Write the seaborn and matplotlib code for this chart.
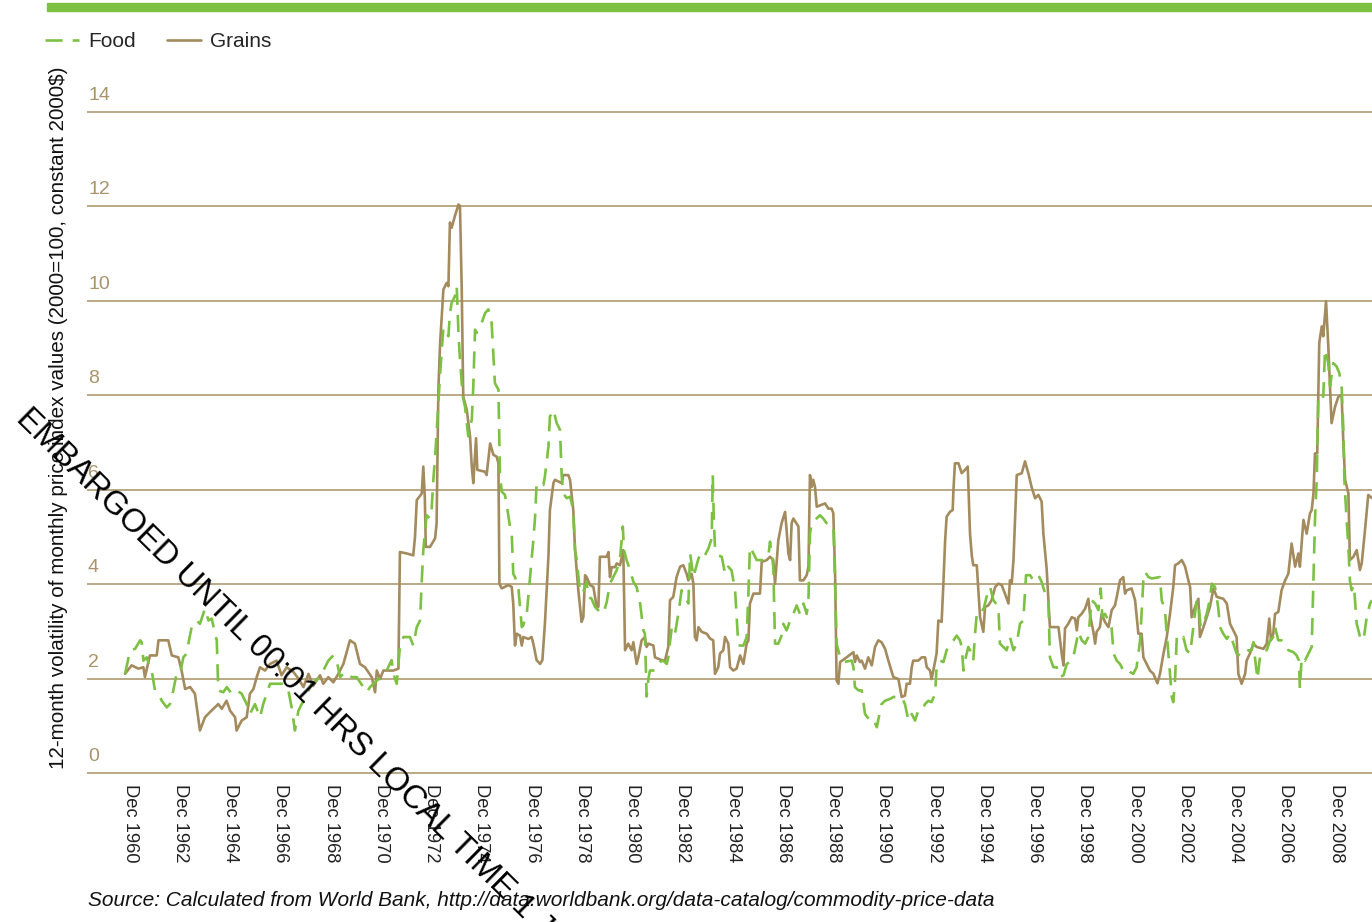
import matplotlib
matplotlib.use("Agg")
import matplotlib.pyplot as plt
import seaborn as sns
import pandas as pd
from matplotlib.patches import Rectangle

# ---------------- data ----------------
grains_year = [
    1960.72, 1960.98, 1961.25, 1961.45, 1961.51, 1961.71, 1961.98, 1962.05, 1962.44, 1962.58,
    1962.84, 1962.97, 1963.11, 1963.31, 1963.50, 1963.70, 1963.90, 1964.10, 1964.43, 1964.57,
    1964.76, 1964.90, 1965.10, 1965.16, 1965.36, 1965.56, 1965.69, 1965.83, 1965.96, 1966.09,
    1966.29, 1966.49, 1966.75, 1966.95, 1967.15, 1967.42, 1967.62, 1967.82, 1968.02, 1968.21,
    1968.48, 1968.61, 1968.81, 1969.01, 1969.21, 1969.41, 1969.67, 1969.87, 1970.07, 1970.27,
    1970.54, 1970.67, 1970.74, 1970.87, 1971.00, 1971.40, 1971.60, 1971.66, 1971.93, 1972.19,
    1972.26, 1972.33, 1972.53, 1972.59, 1972.65, 1972.69, 1972.86, 1973.06, 1973.12, 1973.19,
    1973.26, 1973.39, 1973.52, 1973.59, 1973.65, 1973.72, 1973.85, 1973.99, 1974.05, 1974.12,
    1974.18, 1974.32, 1974.45, 1974.52, 1974.58, 1974.69, 1974.74, 1975.05, 1975.11, 1975.25,
    1975.38, 1975.51, 1975.58, 1975.62, 1975.71, 1975.98, 1976.11, 1976.17, 1976.24, 1976.31,
    1976.44, 1976.51, 1976.57, 1976.77, 1976.90, 1976.97, 1977.10, 1977.24, 1977.33, 1977.43,
    1977.57, 1977.63, 1977.77, 1977.83, 1978.10, 1978.16, 1978.36, 1978.43, 1978.56, 1978.63,
    1978.76, 1978.89, 1978.96, 1979.03, 1979.09, 1979.23, 1979.36, 1979.49, 1979.56, 1979.62,
    1979.89, 1979.96, 1980.02, 1980.09, 1980.22, 1980.29, 1980.42, 1980.55, 1980.62, 1980.75,
    1980.88, 1980.95, 1981.08, 1981.15, 1981.28, 1981.41, 1981.48, 1981.55, 1981.75, 1981.81,
    1982.08, 1982.21, 1982.34, 1982.41, 1982.54, 1982.67, 1982.81, 1982.94, 1983.07, 1983.14,
    1983.27, 1983.34, 1983.40, 1983.47, 1983.54, 1983.67, 1983.87, 1984.00, 1984.13, 1984.20,
    1984.33, 1984.40, 1984.53, 1984.60, 1984.73, 1984.80, 1984.93, 1985.06, 1985.20, 1985.33,
    1985.46, 1985.53, 1985.59, 1985.73, 1985.99, 1986.06, 1986.26, 1986.39, 1986.52, 1986.59,
    1986.72, 1986.85, 1986.99, 1987.05, 1987.12, 1987.19, 1987.25, 1987.32, 1987.52, 1987.58,
    1987.72, 1987.85, 1987.92, 1987.98, 1988.05, 1988.11, 1988.18, 1988.25, 1988.58, 1988.71,
    1988.84, 1988.91, 1988.98, 1989.04, 1989.11, 1989.18, 1989.44, 1989.71, 1989.77, 1989.84,
    1989.97, 1990.04, 1990.17, 1990.30, 1990.44, 1990.57, 1990.70, 1990.83, 1990.97, 1991.10,
    1991.30, 1991.50, 1991.63, 1991.76, 1991.83, 1991.96, 1992.03, 1992.09, 1992.29, 1992.43,
    1992.56, 1992.63, 1992.76, 1992.82, 1992.89, 1993.02, 1993.09, 1993.22, 1993.29, 1993.36,
    1993.42, 1993.55, 1993.66, 1993.69, 1993.75, 1993.89, 1994.02, 1994.15, 1994.26, 1994.35,
    1994.42, 1994.48, 1994.62, 1994.75, 1994.88, 1994.95, 1995.08, 1995.21, 1995.35, 1995.48,
    1995.61, 1995.74, 1995.88, 1995.94, 1996.01, 1996.08, 1996.21, 1996.41, 1996.54, 1996.67,
    1996.80, 1996.94, 1997.07, 1997.20, 1997.27, 1997.40, 1997.53, 1997.87, 1998.00, 1998.07,
    1998.13, 1998.26, 1998.40, 1998.53, 1998.60, 1998.66, 1998.79, 1998.93, 1999.06, 1999.13,
    1999.26, 1999.33, 1999.39, 1999.52, 1999.59, 1999.72, 1999.86, 1999.99, 2000.12, 2000.19,
    2000.32, 2000.45, 2000.52, 2000.59, 2000.78, 2000.92, 2001.05, 2001.18, 2001.25, 2001.38,
    2001.51, 2001.65, 2001.81, 2001.91, 2002.05, 2002.18, 2002.31, 2002.44, 2002.51, 2002.64,
    2002.78, 2002.91, 2003.04, 2003.11, 2003.17, 2003.31, 2003.44, 2003.50, 2003.64, 2003.77,
    2003.90, 2004.04, 2004.17, 2004.43, 2004.57, 2004.70, 2004.83, 2004.96, 2005.03, 2005.16,
    2005.30, 2005.36, 2005.49, 2005.63, 2005.76, 2006.03, 2006.16, 2006.26, 2006.33, 2006.42,
    2006.49, 2006.62, 2006.75, 2006.89, 2007.02, 2007.15, 2007.29, 2007.42, 2007.48, 2007.62,
    2007.75, 2007.88, 2007.95, 2008.02, 2008.08, 2008.17, 2008.25, 2008.35, 2008.41, 2008.52,
    2008.61, 2008.68, 2008.74, 2008.88, 2009.01, 2009.14, 2009.21, 2009.28, 2009.41, 2009.47,
    2009.61, 2009.74, 2009.87, 2009.94, 2010.07, 2010.20, 2010.35,
]
grains_vol = [
    2.10, 2.28, 2.21, 2.24, 2.03, 2.49, 2.49, 2.81, 2.81, 2.49,
    2.45, 2.17, 1.78, 1.82, 1.68, 0.90, 1.18, 1.29, 1.46, 1.36,
    1.53, 1.32, 1.18, 0.90, 1.11, 1.18, 1.68, 1.78, 2.03, 2.24,
    2.17, 2.31, 2.38, 2.07, 2.24, 2.14, 2.00, 1.82, 2.10, 1.85,
    2.07, 1.89, 2.03, 1.92, 2.10, 2.31, 2.81, 2.74, 2.31, 2.24,
    2.03, 1.71, 2.17, 1.99, 2.17, 2.17, 2.21, 4.68, 4.65, 4.61,
    5.00, 5.78, 5.92, 6.49, 5.85, 4.79, 4.79, 4.97, 5.29, 8.12,
    9.11, 10.24, 10.38, 10.31, 11.66, 11.55, 11.80, 12.04, 12.01, 10.24,
    7.98, 7.69, 7.13, 6.49, 6.14, 7.09, 6.42, 6.38, 6.31, 6.98,
    6.74, 6.70, 6.56, 4.01, 3.91, 3.98, 3.94, 3.59, 2.70, 2.95,
    2.91, 2.70, 2.88, 2.84, 2.88, 2.74, 2.39, 2.31, 2.39, 3.16,
    4.58, 5.57, 6.14, 6.21, 6.14, 6.31, 6.31, 6.21, 5.57, 4.72,
    3.87, 3.20, 3.30, 4.19, 4.15, 3.98, 3.94, 3.52, 3.52, 4.58,
    4.58, 4.68, 4.15, 4.36, 4.36, 4.44, 4.40, 4.72, 2.60, 2.74,
    2.60, 2.77, 2.31, 2.45, 2.81, 2.88, 2.67, 2.74, 2.70, 2.45,
    2.39, 2.38, 2.67, 3.66, 3.73, 4.15, 4.37, 4.40, 4.22, 4.08,
    4.22, 4.01, 2.88, 2.81, 3.09, 2.99, 2.95, 2.85, 2.81, 2.10,
    2.24, 2.53, 2.60, 2.88, 2.74, 2.24, 2.17, 2.21, 2.49, 2.31,
    2.74, 2.81, 3.59, 3.80, 3.80, 4.47, 4.51, 4.58, 4.51, 4.01,
    4.93, 5.29, 5.53, 5.14, 4.65, 4.51, 5.29, 5.39, 5.22, 4.08,
    4.08, 4.19, 4.37, 6.31, 6.06, 6.21, 6.06, 5.64, 5.71, 5.60,
    5.60, 5.50, 4.22, 1.96, 1.89, 2.35, 2.45, 2.56, 2.35, 2.49,
    2.35, 2.38, 2.21, 2.45, 2.28, 2.67, 2.81, 2.77, 2.63, 2.38,
    2.03, 1.99, 1.61, 1.64, 1.89, 1.89, 2.24, 2.38, 2.38, 2.45,
    2.45, 2.24, 2.17, 1.99, 2.17, 2.53, 3.23, 3.20, 4.01, 4.93,
    5.43, 5.53, 5.57, 5.99, 6.56, 6.56, 6.35, 6.42, 6.49, 5.07,
    4.61, 4.40, 4.40, 3.30, 2.99, 3.52, 3.55, 3.66, 3.94, 4.01,
    3.98, 3.80, 3.59, 4.08, 4.01, 4.51, 6.31, 6.35, 6.60, 6.35,
    6.06, 5.82, 5.89, 5.75, 5.07, 4.33, 3.09, 3.09, 2.53, 2.28,
    3.06, 3.16, 3.30, 3.27, 3.02, 3.30, 3.37, 3.48, 3.69, 3.34,
    2.99, 2.74, 2.99, 3.09, 3.37, 3.20, 3.09, 3.45, 3.55, 3.73,
    4.08, 4.15, 3.80, 3.87, 3.91, 3.66, 2.95, 2.95, 2.45, 2.31,
    2.17, 2.10, 1.90, 2.10, 2.53, 2.88, 3.37, 3.94, 4.40, 4.44,
    4.51, 4.37, 4.08, 3.94, 3.30, 3.52, 3.69, 2.88, 3.09, 3.30,
    3.52, 3.91, 3.73, 3.69, 3.59, 3.16, 3.02, 2.88, 2.10, 1.89,
    2.10, 2.38, 2.53, 2.74, 2.67, 2.63, 2.74, 3.27, 2.81, 2.95,
    3.37, 3.41, 3.87, 4.08, 4.22, 4.86, 4.37, 4.65, 4.37, 5.36,
    5.07, 5.50, 5.57, 5.92, 6.77, 6.77, 9.11, 9.46, 9.25, 9.99,
    9.04, 8.19, 7.41, 7.76, 7.97, 8.01, 6.98, 6.21, 5.92, 4.51,
    4.58, 4.72, 4.30, 4.44, 5.14, 5.89, 5.82,
]

food_year = [
    1960.72, 1960.92, 1961.12, 1961.32, 1961.38, 1961.45, 1961.58, 1961.71, 1961.78, 1961.91,
    1962.05, 1962.18, 1962.38, 1962.51, 1962.64, 1962.77, 1962.91, 1963.04, 1963.17, 1963.24,
    1963.37, 1963.57, 1963.70, 1963.90, 1964.04, 1964.17, 1964.30, 1964.37, 1964.43, 1964.63,
    1964.77, 1964.96, 1965.16, 1965.36, 1965.56, 1965.69, 1965.89, 1966.09, 1966.22, 1966.49,
    1967.02, 1967.22, 1967.35, 1967.48, 1967.62, 1967.75, 1967.95, 1968.15, 1968.48, 1968.61,
    1968.81, 1969.01, 1969.14, 1969.28, 1969.47, 1969.74, 1969.94, 1970.20, 1970.34, 1970.47,
    1970.74, 1970.93, 1971.13, 1971.33, 1971.40, 1971.53, 1971.66, 1971.80, 1972.06, 1972.19,
    1972.33, 1972.46, 1972.53, 1972.59, 1972.72, 1972.86, 1972.92, 1972.99, 1973.06, 1973.12,
    1973.26, 1973.39, 1973.45, 1973.59, 1973.65, 1973.72, 1973.85, 1973.92, 1973.99, 1974.05,
    1974.16, 1974.25, 1974.38, 1974.45, 1974.52, 1974.58, 1974.65, 1974.71, 1974.91, 1975.05,
    1975.18, 1975.31, 1975.44, 1975.58, 1975.64, 1975.71, 1975.84, 1975.91, 1976.04, 1976.11,
    1976.17, 1976.24, 1976.37, 1976.51, 1976.57, 1976.71, 1976.84, 1976.97, 1977.04, 1977.10,
    1977.37, 1977.43, 1977.57, 1977.63, 1977.77, 1977.90, 1978.03, 1978.10, 1978.16, 1978.30,
    1978.43, 1978.50, 1978.56, 1978.63, 1978.70, 1978.83, 1978.96, 1979.09, 1979.16, 1979.29,
    1979.42, 1979.62, 1979.76, 1979.89, 1980.02, 1980.15, 1980.29, 1980.42, 1980.53, 1980.58,
    1980.68, 1980.82, 1980.95, 1981.08, 1981.22, 1981.35, 1981.41, 1981.48, 1981.55, 1981.61,
    1981.81, 1982.01, 1982.14, 1982.28, 1982.34, 1982.48, 1982.61, 1982.74, 1982.87, 1983.01,
    1983.14, 1983.21, 1983.34, 1983.54, 1983.67, 1983.80, 1983.94, 1984.07, 1984.11, 1984.15,
    1984.20, 1984.33, 1984.47, 1984.60, 1984.73, 1984.86, 1985.00, 1985.13, 1985.33, 1985.46,
    1985.53, 1985.59, 1985.73, 1985.86, 1986.12, 1986.32, 1986.39, 1986.52, 1986.59, 1986.72,
    1986.85, 1986.92, 1987.05, 1987.19, 1987.32, 1987.45, 1987.58, 1987.72, 1987.85, 1987.92,
    1987.98, 1988.05, 1988.18, 1988.38, 1988.51, 1988.64, 1988.91, 1988.98, 1989.04, 1989.18,
    1989.31, 1989.64, 1989.71, 1989.77, 1989.91, 1990.04, 1990.17, 1990.37, 1990.50, 1990.64,
    1990.83, 1990.97, 1991.17, 1991.30, 1991.63, 1991.76, 1991.90, 1992.03, 1992.16, 1992.29,
    1992.43, 1992.56, 1992.69, 1992.82, 1992.96, 1993.02, 1993.16, 1993.29, 1993.42, 1993.55,
    1993.69, 1993.82, 1993.95, 1994.02, 1994.09, 1994.15, 1994.28, 1994.35, 1994.48, 1994.55,
    1994.62, 1994.75, 1994.88, 1995.01, 1995.15, 1995.28, 1995.48, 1995.54, 1995.81, 1995.94,
    1996.08, 1996.21, 1996.34, 1996.47, 1996.58, 1996.74, 1996.87, 1997.07, 1997.20, 1997.34,
    1997.47, 1997.53, 1997.67, 1997.80, 1997.93, 1998.07, 1998.20, 1998.33, 1998.46, 1998.60,
    1998.66, 1998.80, 1998.93, 1999.06, 1999.19, 1999.33, 1999.46, 1999.55, 1999.62, 1999.72,
    1999.86, 1999.99, 2000.06, 2000.19, 2000.32, 2000.45, 2000.59, 2000.72, 2000.85, 2000.98,
    2001.12, 2001.25, 2001.32, 2001.45, 2001.58, 2001.91, 2001.98, 2002.11, 2002.18, 2002.31,
    2002.38, 2002.44, 2002.51, 2002.58, 2002.71, 2002.84, 2002.97, 2003.11, 2003.24, 2003.37,
    2003.45, 2003.53, 2003.64, 2003.77, 2003.90, 2003.97, 2004.10, 2004.23, 2004.30, 2004.43,
    2004.57, 2004.70, 2004.83, 2004.96, 2005.10, 2005.30, 2005.43, 2005.56, 2005.63, 2005.69,
    2005.79, 2005.89, 2006.03, 2006.16, 2006.29, 2006.42, 2006.49, 2006.62, 2006.75, 2006.89,
    2007.02, 2007.22, 2007.35, 2007.44, 2007.48, 2007.55, 2007.68, 2007.82, 2007.95, 2008.02,
    2008.08, 2008.15, 2008.21, 2008.31, 2008.41, 2008.48, 2008.61, 2008.68, 2008.81, 2008.94,
    2009.05, 2009.14, 2009.21, 2009.25, 2009.34, 2009.41, 2009.47, 2009.54, 2009.63, 2009.74,
    2009.81, 2009.87, 2010.01, 2010.14, 2010.27, 2010.35,
]
food_vol = [
    2.10, 2.60, 2.63, 2.81, 2.77, 2.38, 2.45, 2.24, 2.17, 1.75,
    1.68, 1.53, 1.39, 1.46, 1.75, 2.10, 2.10, 2.45, 2.53, 2.74,
    3.09, 3.23, 3.16, 3.48, 3.23, 3.27, 2.95, 2.81, 1.75, 1.71,
    1.82, 1.68, 1.75, 1.68, 1.46, 1.25, 1.46, 1.18, 1.46, 1.89,
    1.89, 1.75, 1.39, 0.90, 1.32, 1.46, 1.68, 1.89, 2.03, 2.17,
    2.38, 2.49, 2.38, 2.03, 2.14, 2.03, 2.03, 1.82, 1.71, 1.82,
    1.96, 2.03, 2.17, 2.39, 2.10, 1.89, 2.67, 2.88, 2.88, 2.70,
    3.09, 3.23, 4.08, 4.72, 5.46, 5.39, 5.57, 6.21, 6.70, 7.20,
    8.47, 9.43, 9.39, 9.25, 9.74, 9.96, 10.10, 10.31, 9.32, 8.75,
    7.98, 7.76, 7.13, 7.34, 7.48, 8.19, 9.39, 9.32, 9.53, 9.74,
    9.82, 9.53, 8.26, 8.12, 6.35, 5.96, 5.89, 5.68, 5.22, 5.07,
    4.22, 4.15, 3.94, 3.09, 3.13, 3.38, 4.15, 4.93, 5.43, 6.14,
    6.10, 6.28, 6.91, 7.55, 7.69, 7.41, 7.27, 6.28, 5.92, 5.82,
    5.85, 5.71, 5.50, 4.72, 4.51, 3.80, 3.84, 4.05, 3.73, 3.69,
    3.52, 3.41, 3.38, 3.62, 4.01, 4.15, 4.30, 4.54, 5.22, 4.72,
    4.51, 4.30, 4.05, 3.94, 3.59, 3.02, 2.95, 1.62, 2.00, 2.17,
    2.17, 2.35, 2.38, 2.31, 2.45, 3.09, 2.95, 3.37, 3.87, 3.73,
    3.59, 4.65, 4.15, 4.54, 4.68, 4.61, 4.76, 4.97, 6.31, 5.43,
    4.76, 4.61, 4.58, 4.22, 4.37, 4.29, 3.87, 2.70, 2.70, 2.88,
    3.80, 4.79, 4.65, 4.51, 4.51, 4.58, 4.90, 4.37, 2.74, 2.74,
    2.91, 3.16, 3.02, 3.23, 3.37, 3.55, 3.37, 3.59, 3.37, 3.66,
    5.07, 5.29, 5.36, 5.46, 5.39, 5.29, 5.25, 4.01, 2.74, 2.45,
    2.35, 2.38, 2.24, 1.82, 1.75, 1.75, 1.25, 1.11, 1.14, 0.97,
    1.46, 1.53, 1.57, 1.61, 1.61, 1.46, 1.11, 1.25, 1.11, 1.32,
    1.32, 1.46, 1.53, 1.50, 1.68, 2.24, 2.38, 2.35, 2.60, 2.74,
    2.81, 2.91, 2.81, 2.67, 2.17, 2.38, 2.67, 2.60, 2.38, 2.95,
    3.37, 3.48, 3.45, 3.73, 3.94, 3.66, 3.52, 2.74, 2.60, 2.88,
    2.60, 2.74, 3.16, 3.23, 4.19, 4.19, 4.08, 4.19, 4.05, 3.80,
    3.66, 2.45, 2.24, 2.24, 2.03, 2.07, 2.31, 2.35, 2.45, 2.81,
    2.99, 2.81, 2.74, 2.88, 3.66, 3.59, 3.45, 3.91, 3.30, 3.37,
    3.23, 3.06, 2.53, 2.38, 2.31, 2.17, 2.21, 2.14, 2.10, 2.24,
    2.81, 4.08, 4.26, 4.15, 4.12, 4.15, 3.66, 3.45, 2.95, 2.10,
    1.61, 1.50, 1.96, 2.88, 2.81, 2.88, 2.60, 2.53, 3.09, 3.66,
    3.55, 3.09, 3.16, 3.37, 3.69, 4.01, 3.94, 3.50, 3.09, 2.95,
    2.84, 2.95, 2.74, 2.53, 2.49, 2.49, 2.60, 2.60, 2.77, 2.45,
    1.99, 2.45, 2.60, 2.60, 2.81, 2.88, 3.09, 2.81, 2.81, 2.74,
    2.60, 2.56, 2.49, 2.38, 1.78, 2.45, 2.38, 2.53, 2.67, 4.08,
    5.36, 6.21, 7.90, 8.05, 7.97, 8.97, 8.68, 8.19, 8.68, 8.61,
    8.47, 8.19, 7.27, 6.21, 5.36, 4.79, 4.08, 3.87, 3.98, 3.16,
    3.02, 2.88, 2.81, 3.30, 3.59, 3.66,
]

tick_years = list(range(1960, 2009, 2))
x_tick_labels = [f"Dec {y}" for y in tick_years]
y_ticks = [0, 2, 4, 6, 8, 10, 12, 14]
series_names = ["Food", "Grains"]

# ---------------- styling ----------------
GREEN = "#7cc142"
BROWN = "#a38b5e"
GRID = "#b5a27c"
TICKC = "#a8936b"

sns.set_theme(style="white")
plt.rcParams["font.family"] = ["Liberation Sans", "DejaVu Sans"]

W, H = 1372, 922
fig = plt.figure(figsize=(W / 100, H / 100), dpi=100)

# axes: x from 87px to right edge; y so that 0 -> 773px, 14 -> 112px
ppu = (773 - 112) / 14.0
ylo, yhi = -0.1, 14.1
y_bot = 773 + 0.1 * ppu
y_top = 112 - 0.1 * ppu
ax = fig.add_axes([87 / W, (H - y_bot) / H, 1 - 87 / W, (y_bot - y_top) / H])

food_df = pd.DataFrame({"year": food_year, "vol": food_vol})
grains_df = pd.DataFrame({"year": grains_year, "vol": grains_vol})

sns.lineplot(data=grains_df, x="year", y="vol", ax=ax, color=BROWN, linewidth=1.9,
             estimator=None, sort=False, label=series_names[1])
sns.lineplot(data=food_df, x="year", y="vol", ax=ax, color=GREEN, linewidth=1.9,
             estimator=None, sort=False, label=series_names[0], linestyle=(0, (6.5, 3.8)))

x_left = 1960 + 11 / 12 + (87 - 130) / 25.125
x_right = 1960 + 11 / 12 + (W - 130) / 25.125
ax.set_xlim(x_left, x_right)
ax.set_ylim(ylo, yhi)

ax.set_yticks(y_ticks)
ax.set_yticklabels([])
ax.tick_params(axis="y", length=0, labelleft=False)
ax.grid(axis="y", color=GRID, linewidth=1.3)
ax.grid(axis="x", visible=False)
for s in ax.spines.values():
    s.set_visible(False)

for v in y_ticks:
    ax.annotate(str(v), xy=(0, v), xycoords=("axes fraction", "data"),
                xytext=(1, 12), textcoords="offset pixels",
                ha="left", va="baseline", fontsize=14, color=TICKC)

ax.set_xticks([y + 11 / 12 for y in tick_years])
ax.set_xticklabels(x_tick_labels)
ax.tick_params(axis="x", length=0, pad=4.3, labelsize=13.2, labelrotation=-90,
               labelcolor="#222222")
ax.set_xlabel("")
ax.set_ylabel("")

# legend
handles = {l.get_label(): l for l in ax.get_lines()}
if ax.get_legend() is not None:
    ax.get_legend().remove()
fig.legend([handles[n] for n in series_names], series_names,
           loc="upper left", bbox_to_anchor=(45 / W, 1 - 32 / H), ncol=2,
           frameon=False, fontsize=15, handlelength=1.65, handletextpad=0.45,
           columnspacing=1.45, borderpad=0, borderaxespad=0)

# top green bar
fig.patches.append(Rectangle((47 / W, 1 - 11 / H), 1 - 47 / W, 8 / H,
                             transform=fig.transFigure, color=GREEN, zorder=0))

# y-axis title
fig.text(59 / W, 1 - 418 / H,
         "12-month volatility of monthly price index values (2000=100, constant 2000$)",
         rotation=90, ha="center", va="center", fontsize=14.9, color="#111111")

# source
fig.text(88 / W, 1 - 906 / H,
         "Source: Calculated from World Bank, http://data.worldbank.org/data-catalog/commodity-price-data",
         ha="left", va="baseline", fontsize=15, style="italic", color="#111111")

# watermark
fig.text(15 / W, 1 - 420 / H, "EMBARGOED UNTIL 00:01 HRS LOCAL TIME 1 JUNE 2011",
         rotation=-44.5, rotation_mode="anchor", ha="left", va="baseline",
         fontsize=23.6, color="black", zorder=10)

fig.savefig("out.png", dpi=100)
